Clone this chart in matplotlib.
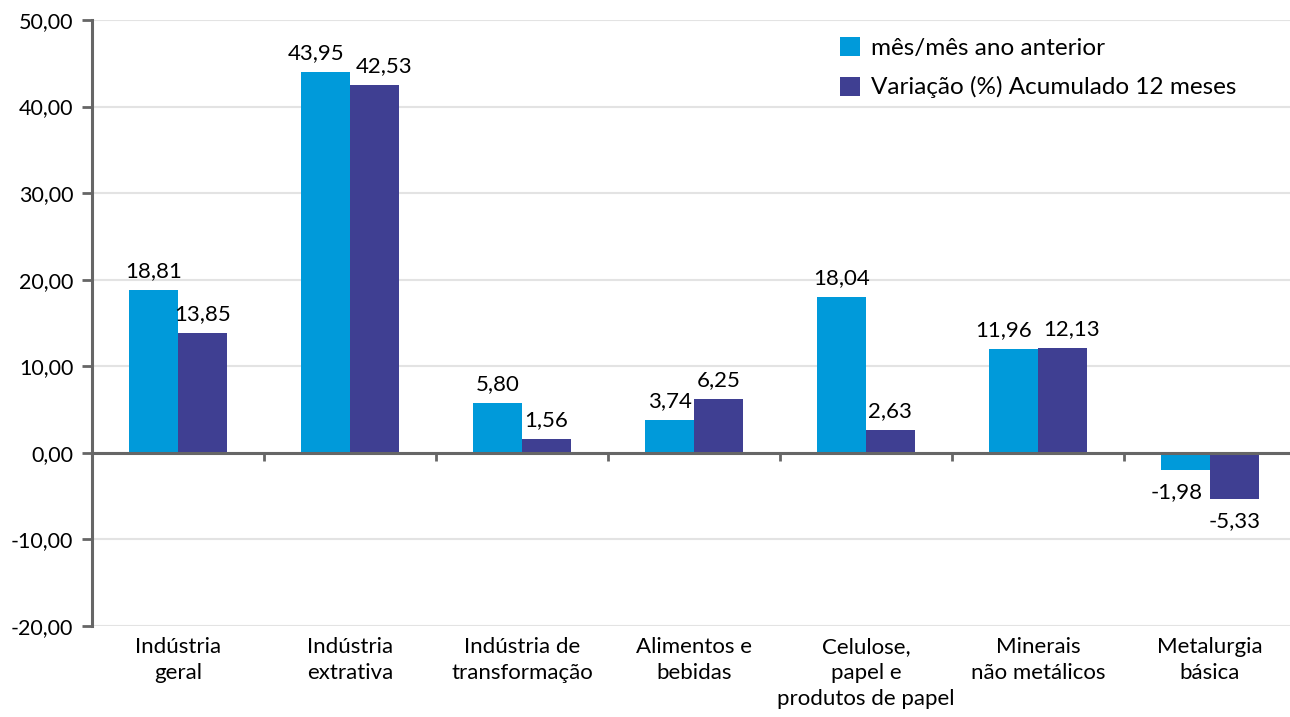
import matplotlib
matplotlib.use("Agg")
import matplotlib.pyplot as plt
import numpy as np
from matplotlib.ticker import FuncFormatter, FixedLocator

categories = ["Indústria\ngeral", "Indústria\nextrativa", "Indústria de\ntransformação",
              "Alimentos e\nbebidas", "Celulose,\npapel e\nprodutos de papel",
              "Minerais\nnão metálicos", "Metalurgia\nbásica"]
mes_mes = [18.81, 43.95, 5.80, 3.74, 18.04, 11.96, -1.98]
acum12 = [13.85, 42.53, 1.56, 6.25, 2.63, 12.13, -5.33]
series_names = ["mês/mês ano anterior", "Variação (%) Acumulado 12 meses"]
y_ticks = [-20, -10, 0, 10, 20, 30, 40, 50]

plt.rcParams['font.family'] = ['Lato', 'DejaVu Sans']
FS = 16
TFS = 15.5
LFS = 17.5
BLUE = "#009ADA"
PURPLE = "#3F3F92"
AXC = "#666666"

fig = plt.figure(figsize=(12.9, 7.17), dpi=100)
ax = fig.add_axes([92/1290, 91/717, (1296-92)/1290, (626-20)/717])

x = np.arange(len(categories))
w = 0.282
b1 = ax.bar(x - w/2, mes_mes, w, color=BLUE, label=series_names[0], zorder=3)
b2 = ax.bar(x + w/2, acum12, w, color=PURPLE, label=series_names[1], zorder=3)

fmt = lambda v: f"{v:.2f}".replace(".", ",")
for i, (r1, r2) in enumerate(zip(b1, b2)):
    v1, v2 = mes_mes[i], acum12[i]
    close = abs(v1 - v2) < 2.5
    for r, v, side in ((r1, v1, -1), (r2, v2, 1)):
        cx = r.get_x() + r.get_width()/2
        dx = side * 7 if close else 0
        if v >= 0:
            ax.annotate(fmt(v), (cx, v), xytext=(dx, 6.5), textcoords="offset points",
                        ha="center", va="bottom", fontsize=FS, color="#000000")
        else:
            # keep the label of the shallower negative bar clear of its neighbour
            if side == -1 and v2 < v1 - 1:
                dx = -6.5
            ax.annotate(fmt(v), (cx, v), xytext=(dx, -9), textcoords="offset points",
                        ha="center", va="top", fontsize=FS, color="#000000")

ax.set_xlim(-0.5, len(categories) - 0.5)
ax.set_ylim(-20, 50)
ax.yaxis.set_major_locator(FixedLocator(y_ticks))
ax.yaxis.set_major_formatter(FuncFormatter(lambda v, p: fmt(v)))
ax.tick_params(axis='y', labelsize=TFS, length=7, width=2, color=AXC, pad=6.5, labelcolor="#000000")
ax.grid(axis='y', color="#e3e3e3", linewidth=1.5, zorder=0)
ax.set_axisbelow(True)

for s in ("top", "right"):
    ax.spines[s].set_visible(False)
ax.spines['left'].set_color(AXC)
ax.spines['left'].set_linewidth(2.2)
ax.spines['bottom'].set_position(('data', 0))
ax.spines['bottom'].set_color(AXC)
ax.spines['bottom'].set_linewidth(2.2)
ax.spines['bottom'].set_zorder(4)
ax.set_xticks(x[:-1] + 0.5)
ax.set_xticklabels([])
ax.tick_params(axis='x', length=6, width=2, color=AXC, direction='out')

sec = ax.secondary_xaxis('bottom')
sec.set_xticks(x)
sec.set_xticklabels(categories, fontsize=FS, linespacing=1.38)
sec.tick_params(length=0, pad=8)
sec.spines['bottom'].set_visible(False)

leg = fig.legend(handles=[b1, b2], labels=series_names, loc="upper left",
                 bbox_to_anchor=(840/1290, 1 - 37/717), frameon=False,
                 fontsize=LFS, handlelength=0.82, handleheight=0.82, handletextpad=0.45,
                 labelspacing=0.72, borderpad=0, borderaxespad=0)

fig.savefig("out.png", dpi=100)
